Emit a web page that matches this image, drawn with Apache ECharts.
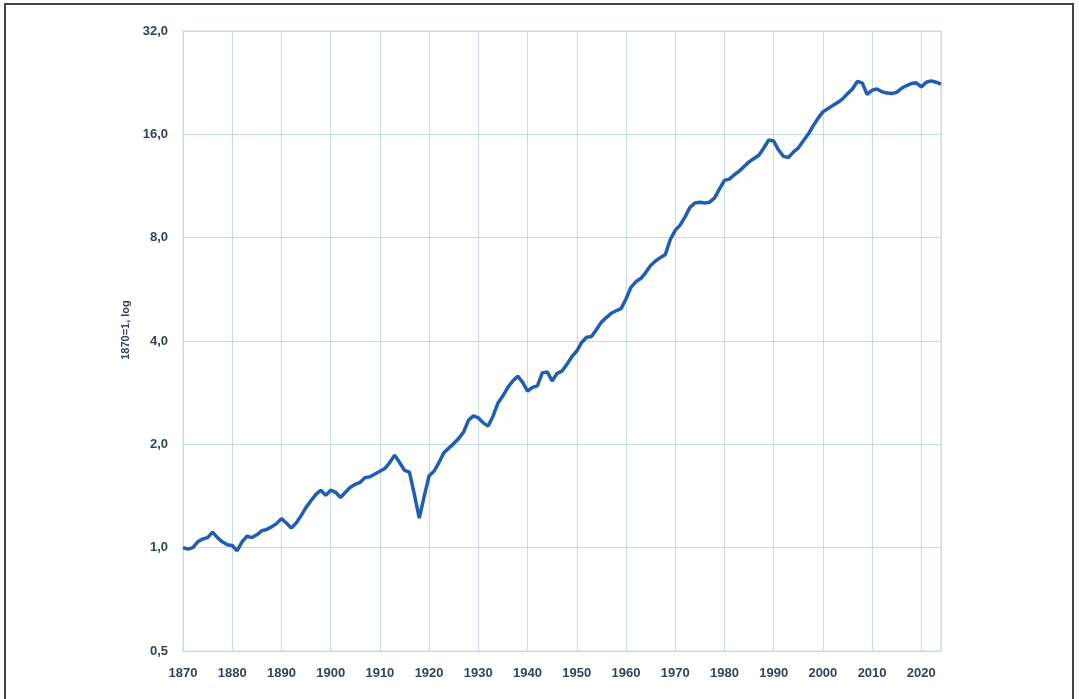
<!DOCTYPE html>
<html>
<head>
<meta charset="utf-8">
<script src="https://cdn.jsdelivr.net/npm/echarts@6/dist/echarts.min.js"></script>
<style>
html,body{margin:0;padding:0;background:#fff;}
#frame{position:absolute;left:4px;top:3px;width:1070px;height:720px;border-top:2px solid #444;border-left:2px solid #444;border-right:2px solid #444;box-sizing:border-box;}
#chart{position:absolute;left:0;top:0;width:1079px;height:699px;}
</style>
</head>
<body>
<div id="frame"></div>
<div id="chart"></div>
<script>
var startYear = 1870;
var endYear = 2024;
var yAxisName = '1870=1, log';
var yTicks = [0.5, 1, 2, 4, 8, 16, 32];
var values = [
  1.00, 0.99, 1.00, 1.04, 1.06, 1.07, 1.11, 1.07, 1.04, 1.02,
  1.015, 0.98, 1.04, 1.08, 1.07, 1.09, 1.12, 1.13, 1.15, 1.175,
  1.215, 1.18, 1.14, 1.18, 1.24, 1.31, 1.37, 1.43, 1.47, 1.42,
  1.47, 1.45, 1.40, 1.45, 1.50, 1.53, 1.55, 1.60, 1.61, 1.64,
  1.67, 1.70, 1.77, 1.86, 1.77, 1.68, 1.66, 1.43, 1.22, 1.41,
  1.62, 1.67, 1.77, 1.89, 1.95, 2.01, 2.08, 2.17, 2.35, 2.42,
  2.39, 2.31, 2.26, 2.42, 2.64, 2.77, 2.93, 3.06, 3.16, 3.03,
  2.86, 2.93, 2.96, 3.23, 3.25, 3.06, 3.22, 3.27, 3.42, 3.60,
  3.74, 3.96, 4.10, 4.12, 4.32, 4.54, 4.68, 4.82, 4.90, 4.97,
  5.30, 5.73, 5.95, 6.08, 6.33, 6.64, 6.84, 7.00, 7.15, 7.90,
  8.40, 8.70, 9.20, 9.80, 10.10, 10.15, 10.10, 10.15, 10.45, 11.1,
  11.75, 11.85, 12.2, 12.5, 12.9, 13.3, 13.6, 13.9, 14.6, 15.4,
  15.3, 14.4, 13.8, 13.7, 14.2, 14.6, 15.3, 16.0, 16.9, 17.8,
  18.6, 19.0, 19.4, 19.8, 20.3, 21.0, 21.7, 22.8, 22.6, 20.9,
  21.5, 21.7, 21.3, 21.1, 21.05, 21.2, 21.8, 22.2, 22.5, 22.6,
  22.0, 22.7, 22.9, 22.7, 22.4
];
var years = [];
for (var y = startYear; y <= endYear; y++) years.push(y);
var seriesData = years.map(function (yr, i) { return [yr, values[i]]; });

var chart = echarts.init(document.getElementById('chart'), null, {renderer: 'canvas'});
var labelColor = '#34435a';
var gridColor = '#c6dbe8';
chart.setOption({
  backgroundColor: 'transparent',
  animation: false,
  grid: {left: 183, right: 138, top: 31, bottom: 48, show: true, borderColor: gridColor, borderWidth: 1},
  xAxis: {
    type: 'value', min: startYear, max: endYear, interval: 10,
    axisLine: {show: true, lineStyle: {color: gridColor}},
    axisTick: {show: false},
    splitLine: {show: true, lineStyle: {color: gridColor, width: 1}},
    axisLabel: {color: labelColor, fontSize: 13, fontWeight: 'bold', fontFamily: 'Liberation Sans, Arial', margin: 16,
      formatter: function (v) { return String(v); }}
  },
  yAxis: {
    type: 'log', logBase: 2, min: yTicks[0], max: yTicks[yTicks.length - 1], splitNumber: 6,
    axisLine: {show: true, lineStyle: {color: gridColor}},
    axisTick: {show: false},
    splitLine: {show: true, lineStyle: {color: gridColor, width: 1}},
    axisLabel: {color: labelColor, fontSize: 13, fontWeight: 'bold', fontFamily: 'Liberation Sans, Arial', margin: 15,
      formatter: function (v) { return (Math.round(v * 10) / 10).toFixed(1).replace('.', ','); }}
  },
  graphic: [{
    type: 'text', x: 126, y: 330, rotation: Math.PI / 2,
    style: {text: yAxisName, fill: labelColor, font: 'bold 11px Liberation Sans, Arial', align: 'center', verticalAlign: 'middle'}
  }],
  series: [{
    type: 'line', data: seriesData, showSymbol: false, smooth: false,
    lineStyle: {color: '#1f5eb0', width: 3.5}
  }]
});
</script>
</body>
</html>
